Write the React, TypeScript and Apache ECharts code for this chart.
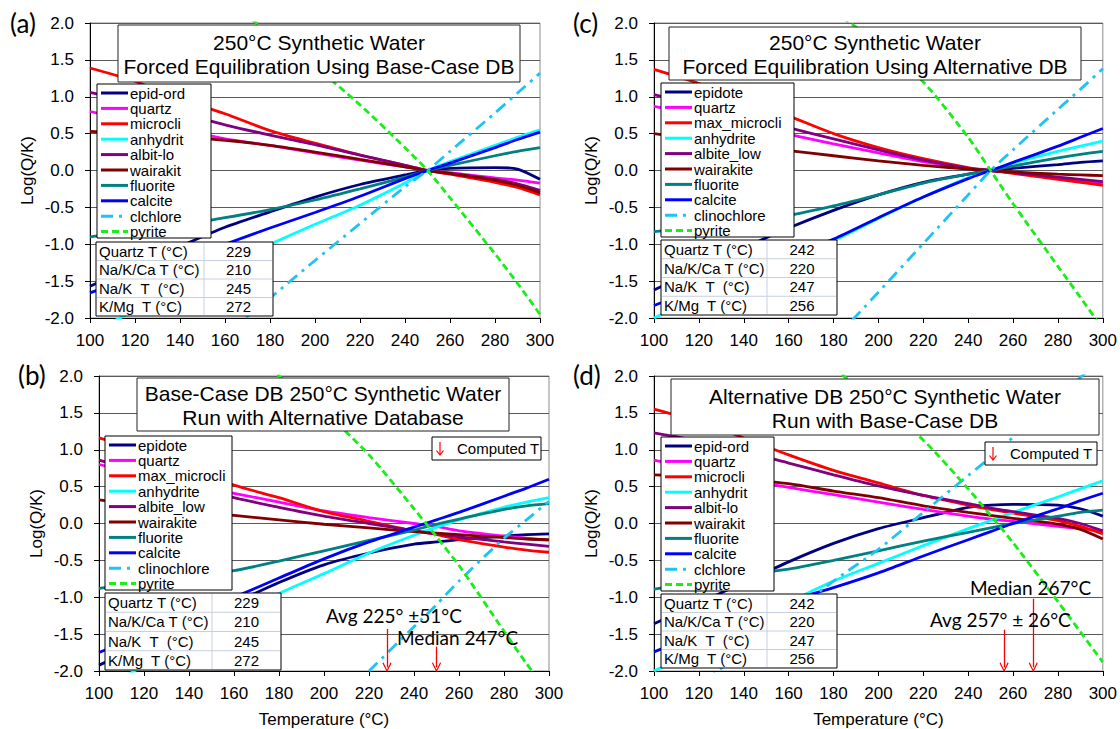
import React, { useEffect, useRef } from 'react';
import * as echarts from 'echarts';

// ---------- data ----------
const TEMPS = [100, 120, 140, 160, 180, 200, 220, 240, 250, 260, 280, 290, 300];

const Y_TICK_DECIMALS = 1;

// Panel (a) – base-case DB, forced equilibration
const A_NAMES = ['epid-ord', 'quartz', 'microcli', 'anhydrit', 'albit-lo', 'wairakit', 'fluorite', 'calcite', 'clchlore', 'pyrite'];
const A_EPID = [-1.57, -1.3, -1.03, -0.77, -0.56, -0.36, -0.19, -0.06, 0, 0.03, 0.04, 0.02, -0.12];
const A_QUARTZ = [0.8, 0.67, 0.55, 0.43, 0.34, 0.24, 0.14, 0.05, 0, -0.03, -0.1, -0.13, -0.17];
const A_MICRO = [1.39, 1.21, 0.97, 0.77, 0.54, 0.37, 0.21, 0.07, 0, -0.05, -0.16, -0.23, -0.33];
const A_ANHY = [-2.2, -1.9, -1.6, -1.28, -1.0, -0.73, -0.47, -0.17, 0, 0.12, 0.34, 0.45, 0.55];
const A_ALBIT = [1.06, 0.92, 0.78, 0.62, 0.48, 0.35, 0.21, 0.07, 0, -0.04, -0.12, -0.18, -0.27];
const A_WAIR = [0.53, 0.5, 0.46, 0.41, 0.34, 0.25, 0.15, 0.05, 0, -0.04, -0.13, -0.2, -0.3];
const A_FLUOR = [-0.9, -0.82, -0.74, -0.64, -0.53, -0.4, -0.25, -0.09, 0, 0.07, 0.2, 0.26, 0.31];
const A_CALC = [-1.66, -1.44, -1.22, -1.0, -0.78, -0.57, -0.35, -0.11, 0, 0.1, 0.31, 0.42, 0.52];
const A_CLCH = [null, null, null, -2.22, -1.73, -1.22, -0.72, -0.22, 0, 0.26, 0.78, 1.05, 1.32];
const A_PYR = [null, null, null, 2.3, 1.87, 1.41, 0.89, 0.31, 0, -0.37, -1.13, -1.53, -1.95];

// Panel (c) – alternative DB, forced equilibration
const C_NAMES = ['epidote', 'quartz', 'max_microcli', 'anhydrite', 'albite_low', 'wairakite', 'fluorite', 'calcite', 'clinochlore', 'pyrite'];
const C_EPID = [-1.62, -1.33, -1.05, -0.78, -0.54, -0.33, -0.16, -0.05, 0, 0.03, 0.08, 0.11, 0.13];
const C_QUARTZ = [0.87, 0.76, 0.63, 0.49, 0.36, 0.24, 0.12, 0.03, 0, -0.03, -0.1, -0.14, -0.17];
const C_MICRO = [1.37, 1.18, 0.97, 0.74, 0.5, 0.31, 0.16, 0.04, 0, -0.04, -0.12, -0.16, -0.2];
const C_ANHY = [-2.0, -1.72, -1.45, -1.2, -0.95, -0.65, -0.36, -0.1, 0, 0.1, 0.26, 0.33, 0.4];
const C_ALBIT = [1.03, 0.88, 0.74, 0.58, 0.43, 0.28, 0.14, 0.03, 0, -0.03, -0.09, -0.12, -0.15];
const C_WAIR = [0.5, 0.42, 0.35, 0.27, 0.2, 0.13, 0.07, 0.02, 0, -0.02, -0.05, -0.06, -0.07];
const C_FLUOR = [-0.83, -0.77, -0.7, -0.61, -0.48, -0.33, -0.17, -0.05, 0, 0.06, 0.17, 0.22, 0.26];
const C_CALC = [-1.83, -1.6, -1.37, -1.15, -0.93, -0.64, -0.36, -0.11, 0, 0.11, 0.33, 0.45, 0.57];
const C_CLCH = [null, null, null, null, -2.3, -1.65, -0.99, -0.33, 0, 0.28, 0.83, 1.1, 1.38];
const C_PYR = [null, null, null, null, 2.15, 1.73, 1.2, 0.45, 0, -0.45, -1.3, -1.72, -2.15];

// Panel (b) – base-case water run with alternative database
const B_NAMES = C_NAMES;
const B_EPID = [-1.92, -1.65, -1.37, -1.08, -0.8, -0.56, -0.4, -0.28, -0.25, -0.22, -0.17, -0.15, -0.14];
const B_QUARTZ = [0.8, 0.66, 0.53, 0.41, 0.29, 0.17, 0.08, 0.0, -0.04, -0.1, -0.17, -0.2, -0.23];
const B_MICRO = [1.16, 0.98, 0.75, 0.52, 0.35, 0.16, 0.03, -0.1, -0.15, -0.22, -0.32, -0.36, -0.39];
const B_ANHY = [-2.3, -1.92, -1.6, -1.28, -0.95, -0.68, -0.4, -0.16, -0.05, 0.05, 0.22, 0.29, 0.35];
const B_ALBIT = [0.86, 0.69, 0.52, 0.35, 0.22, 0.1, 0.0, -0.1, -0.14, -0.18, -0.25, -0.28, -0.31];
const B_WAIR = [0.32, 0.24, 0.17, 0.11, 0.05, -0.01, -0.06, -0.11, -0.13, -0.15, -0.19, -0.21, -0.22];
const B_FLUOR = [-0.88, -0.8, -0.72, -0.64, -0.51, -0.37, -0.23, -0.09, -0.01, 0.06, 0.19, 0.24, 0.27];
const B_CALC = [-1.75, -1.5, -1.25, -1.0, -0.74, -0.48, -0.25, -0.05, 0.05, 0.15, 0.37, 0.48, 0.6];
const B_CLCH = [null, null, null, null, null, null, -2.0, -1.4, -1.1, -0.78, -0.2, 0.05, 0.3];
const B_PYR = [null, null, null, 2.48, 2.0, 1.52, 0.93, 0.2, -0.18, -0.57, -1.46, -1.9, -2.3];

// Panel (d) – alternative water run with base-case DB
const D_NAMES = A_NAMES;
const D_EPID = [-1.36, -1.08, -0.8, -0.52, -0.27, -0.07, 0.08, 0.22, 0.25, 0.26, 0.25, 0.2, 0.1];
const D_QUARTZ = [0.86, 0.73, 0.6, 0.49, 0.39, 0.29, 0.19, 0.1, 0.06, 0.03, -0.04, -0.07, -0.1];
const D_MICRO = [1.55, 1.38, 1.16, 0.93, 0.72, 0.55, 0.38, 0.25, 0.19, 0.14, 0.04, -0.04, -0.14];
const D_ANHY = [-2.0, -1.7, -1.38, -1.07, -0.78, -0.54, -0.3, -0.07, 0.04, 0.15, 0.36, 0.47, 0.58];
const D_ALBIT = [1.23, 1.12, 0.98, 0.82, 0.66, 0.51, 0.38, 0.27, 0.21, 0.16, 0.07, 0.0, -0.1];
const D_WAIR = [0.66, 0.64, 0.6, 0.54, 0.44, 0.35, 0.24, 0.15, 0.11, 0.07, -0.01, -0.08, -0.21];
const D_FLUOR = [-0.89, -0.8, -0.7, -0.62, -0.5, -0.37, -0.24, -0.12, -0.06, 0.0, 0.1, 0.15, 0.18];
const D_CALC = [-1.74, -1.5, -1.27, -1.05, -0.87, -0.67, -0.44, -0.22, -0.11, 0.0, 0.2, 0.31, 0.41];
const D_CLCH = [null, -2.2, -1.72, -1.24, -0.78, -0.35, 0.15, 0.65, 0.9, 1.17, 1.7, 1.98, 2.25];
const D_PYR = [null, null, null, null, 2.11, 1.62, 1.13, 0.47, 0.11, -0.26, -1.06, -1.47, -1.88];

// Geothermometer tables
const TABLE_LABELS = ['Quartz T (°C)', 'Na/K/Ca T (°C)', 'Na/K  T  (°C)', 'K/Mg  T (°C)'];
const BASE_TEMPS = [229, 210, 245, 272];
const ALT_TEMPS = [242, 220, 247, 256];

// Computed-T arrows (temperature, top of arrow in Log(Q/K))
const ARROWS_B = [{ t: 228, top: -1.43 }, { t: 250, top: -1.67 }];
const ARROWS_D = [{ t: 256, top: -1.44 }, { t: 269, top: -1.02 }];
const ARROW_BASE = -1.95;

const TITLES = [
  '250°C Synthetic Water\nForced Equilibration Using Base-Case DB',
  '250°C Synthetic Water\nForced Equilibration Using Alternative DB',
  'Base-Case DB 250°C Synthetic Water\nRun with Alternative Database',
  'Alternative DB 250°C Synthetic Water\nRun with Base-Case DB',
];
const PANEL_LABELS = ['(a)', '(c)', '(b)', '(d)'];

// ---------- styling ----------
const COLORS = ['#000080', '#ff00ff', '#ff0000', '#00ffff', '#800080', '#800000', '#008080', '#0000ff', '#1cc4f4', '#19ee19'];
const DASHES: any[] = ['solid', 'solid', 'solid', 'solid', 'solid', 'solid', 'solid', 'solid', [12, 6, 3, 6], [7, 4]];
const FONT = '"Liberation Sans", Arial, sans-serif';
const HFONT = 'Lato, "Open Sans", sans-serif';

const PANELS = [
  { names: A_NAMES, values: [A_EPID, A_QUARTZ, A_MICRO, A_ANHY, A_ALBIT, A_WAIR, A_FLUOR, A_CALC, A_CLCH, A_PYR], grid: { left: 90, top: 23 }, bottom: false, arrows: null as any },
  { names: C_NAMES, values: [C_EPID, C_QUARTZ, C_MICRO, C_ANHY, C_ALBIT, C_WAIR, C_FLUOR, C_CALC, C_CLCH, C_PYR], grid: { left: 654, top: 23 }, bottom: false, arrows: null as any },
  { names: B_NAMES, values: [B_EPID, B_QUARTZ, B_MICRO, B_ANHY, B_ALBIT, B_WAIR, B_FLUOR, B_CALC, B_CLCH, B_PYR], grid: { left: 99, top: 376 }, bottom: true, arrows: ARROWS_B },
  { names: D_NAMES, values: [D_EPID, D_QUARTZ, D_MICRO, D_ANHY, D_ALBIT, D_WAIR, D_FLUOR, D_CALC, D_CLCH, D_PYR], grid: { left: 654, top: 376 }, bottom: true, arrows: ARROWS_D },
];

const ARROW_PATH = 'path://M5,0 L10,9 L9,10 L5,2.6 L1,10 L0,9 Z';

function legendGraphic(x: number, y: number, w: number, h: number, names: string[]) {
  const children: any[] = [
    { type: 'rect', z: 100, shape: { x: 0, y: 0, width: w, height: h }, style: { fill: '#fff', stroke: '#000', lineWidth: 1 } },
  ];
  names.forEach((n, i) => {
    const cy = 9 + i * 15.4;
    children.push({
      type: 'line', z: 101,
      shape: { x1: 4, y1: cy, x2: 31, y2: cy },
      style: { stroke: COLORS[i], lineWidth: 3, lineDash: DASHES[i] === 'solid' ? null : DASHES[i] },
    });
    children.push({
      type: 'text', z: 101, x: 33, y: cy,
      style: { text: n, fontSize: 15, fontFamily: FONT, fill: '#000', verticalAlign: 'middle', align: 'left' },
    });
  });
  return { type: 'group', x, y, children };
}

function tableGraphic(x: number, y: number, w: number, h: number, div: number, values: number[]) {
  const rh = h / 4;
  const children: any[] = [
    { type: 'rect', z: 100, shape: { x: 0, y: 0, width: w, height: h }, style: { fill: '#fff', stroke: '#000', lineWidth: 1 } },
    { type: 'line', z: 101, shape: { x1: div, y1: 1, x2: div, y2: h - 1 }, style: { stroke: '#c7cfde', lineWidth: 1 } },
  ];
  for (let r = 1; r < 4; r++) {
    children.push({ type: 'line', z: 101, shape: { x1: 1, y1: r * rh, x2: w - 1, y2: r * rh }, style: { stroke: '#c7cfde', lineWidth: 1 } });
  }
  TABLE_LABELS.forEach((lab, r) => {
    children.push({ type: 'text', z: 102, x: 3, y: (r + 0.5) * rh, style: { text: lab, fontSize: 15, fontFamily: FONT, fill: '#000', verticalAlign: 'middle', align: 'left' } });
    children.push({ type: 'text', z: 102, x: (div + w) / 2, y: (r + 0.5) * rh, style: { text: String(values[r]), fontSize: 15, fontFamily: FONT, fill: '#000', verticalAlign: 'middle', align: 'center' } });
  });
  return { type: 'group', x, y, children };
}

function titleGraphic(x: number, y: number, w: number, h: number, text: string) {
  return {
    type: 'group', x, y,
    children: [
      { type: 'rect', z: 100, shape: { x: 0, y: 0, width: w, height: h }, style: { fill: '#fff', stroke: '#222', lineWidth: 1 } },
      { type: 'text', z: 101, x: w / 2, y: h / 2 + 1, style: { text, fontSize: 21, fontFamily: FONT, fill: '#000', align: 'center', verticalAlign: 'middle', lineHeight: 24 } },
    ],
  };
}

function computedGraphic(x: number, y: number, w: number, h: number) {
  const ax = 8;
  return {
    type: 'group', x, y,
    children: [
      { type: 'rect', z: 100, shape: { x: 0, y: 0, width: w, height: h }, style: { fill: '#fff', stroke: '#000', lineWidth: 1 } },
      { type: 'line', z: 101, shape: { x1: ax, y1: 5, x2: ax, y2: h - 5 }, style: { stroke: '#ff0000', lineWidth: 1.2 } },
      { type: 'polyline', z: 101, shape: { points: [[ax - 3.5, h - 9.5], [ax, h - 5], [ax + 3.5, h - 9.5]] }, style: { stroke: '#ff0000', lineWidth: 1.2, fill: 'none' } },
      { type: 'text', z: 101, x: 25, y: h / 2, style: { text: 'Computed T', fontSize: 15, fontFamily: FONT, fill: '#000', verticalAlign: 'middle', align: 'left' } },
    ],
  };
}

function noteText(x: number, y: number, text: string) {
  return { type: 'text', z: 100, x, y, style: { text, fontSize: 19, fontFamily: HFONT, fill: '#000', verticalAlign: 'middle', align: 'left' } };
}

function panelLabel(x: number, y: number, text: string) {
  return { type: 'text', z: 100, x, y, style: { text, fontSize: 26, fontFamily: HFONT, fill: '#000', verticalAlign: 'middle' } };
}

function buildOption() {
  const grid = PANELS.map((p) => ({ left: p.grid.left, top: p.grid.top, width: 450, height: 295, show: true, borderColor: '#8c8c8c', borderWidth: 1, backgroundColor: 'transparent' }));
  const xAxis = PANELS.map((p, i) => ({
    gridIndex: i, type: 'value', min: 100, max: 300, interval: 20,
    axisLine: { show: true, onZero: false, lineStyle: { color: '#000', width: 1 } },
    axisTick: { show: true, inside: false, length: 5, lineStyle: { color: '#000' } },
    axisLabel: { color: '#000', fontSize: 17, fontFamily: FONT, margin: 14 },
    splitLine: { show: false },
    name: p.bottom ? 'Temperature (°C)' : '',
    nameLocation: 'middle', nameGap: 40,
    nameTextStyle: { color: '#000', fontSize: 17, fontFamily: FONT },
  }));
  const yAxis = PANELS.map((p, i) => ({
    gridIndex: i, type: 'value', min: -2, max: 2, interval: 0.5,
    axisLine: { show: true, onZero: false, lineStyle: { color: '#000', width: 1 } },
    axisTick: { show: true, inside: false, length: 5, lineStyle: { color: '#000' } },
    axisLabel: { color: '#000', fontSize: 17, fontFamily: FONT, margin: 16, formatter: (v: number) => v.toFixed(Y_TICK_DECIMALS) },
    splitLine: { show: true, lineStyle: { color: '#5a5a5a', width: 1 } },
    name: 'Log(Q/K)', nameLocation: 'middle', nameGap: 54, nameRotate: 90,
    nameTextStyle: { color: '#000', fontSize: 17, fontFamily: FONT },
  }));
  const series: any[] = [];
  PANELS.forEach((p, pi) => {
    p.names.forEach((name, si) => {
      const s: any = {
        type: 'line', name, xAxisIndex: pi, yAxisIndex: pi,
        data: TEMPS.map((t, j) => [t, p.values[si][j] === null ? '-' : p.values[si][j]]),
        showSymbol: false, symbol: 'none', smooth: 0.25, clip: true,
        lineStyle: { color: COLORS[si], width: 2.8, type: DASHES[si] },
        itemStyle: { color: COLORS[si] },
        z: 2 + si * 0.01,
      };
      if (si === 9 && p.arrows) {
        s.markLine = {
          silent: true, symbol: ['none', ARROW_PATH], symbolSize: [9, 10],
          label: { show: false },
          lineStyle: { color: '#ff0000', width: 1.3, type: 'solid' },
          data: p.arrows.map((a: any) => [{ coord: [a.t, a.top] }, { coord: [a.t, ARROW_BASE] }]),
        };
      }
      series.push(s);
    });
  });

  const graphic: any[] = [
    titleGraphic(118, 25, 402, 57, TITLES[0]),
    titleGraphic(669, 27, 412, 53, TITLES[1]),
    titleGraphic(137, 378, 372, 53, TITLES[2]),
    titleGraphic(671, 379, 428, 56, TITLES[3]),
    legendGraphic(97, 84, 114, 154, A_NAMES),
    legendGraphic(661, 83, 133, 154, C_NAMES),
    legendGraphic(105, 436, 127, 154, B_NAMES),
    legendGraphic(661, 437, 113, 154, D_NAMES),
    tableGraphic(96, 242, 177, 74, 108, BASE_TEMPS),
    tableGraphic(661, 240, 176, 75, 106, ALT_TEMPS),
    tableGraphic(105, 593, 176, 77, 107, BASE_TEMPS),
    tableGraphic(661, 594, 176, 74, 106, ALT_TEMPS),
    computedGraphic(432, 437, 109, 23),
    computedGraphic(985, 442, 112, 23),
    noteText(326, 615, 'Avg 225° ±51°C'),
    noteText(397, 637, 'Median 247°C'),
    noteText(970, 587, 'Median 267°C'),
    noteText(930, 619, 'Avg 257° ± 26°C'),
    panelLabel(10, 23, PANEL_LABELS[0]),
    panelLabel(573, 23, PANEL_LABELS[1]),
    panelLabel(18, 375, PANEL_LABELS[2]),
    panelLabel(573, 375, PANEL_LABELS[3]),
  ];

  return { animation: false, backgroundColor: '#fff', grid, xAxis, yAxis, series, graphic };
}

export default function App() {
  const ref = useRef<HTMLDivElement>(null);
  useEffect(() => {
    document.body.style.margin = '0';
    const chart = echarts.init(ref.current as HTMLDivElement, null, { renderer: 'svg' });
    chart.setOption(buildOption() as any);
    return () => chart.dispose();
  }, []);
  return <div ref={ref} style={{ width: 1120, height: 729 }} />;
}
